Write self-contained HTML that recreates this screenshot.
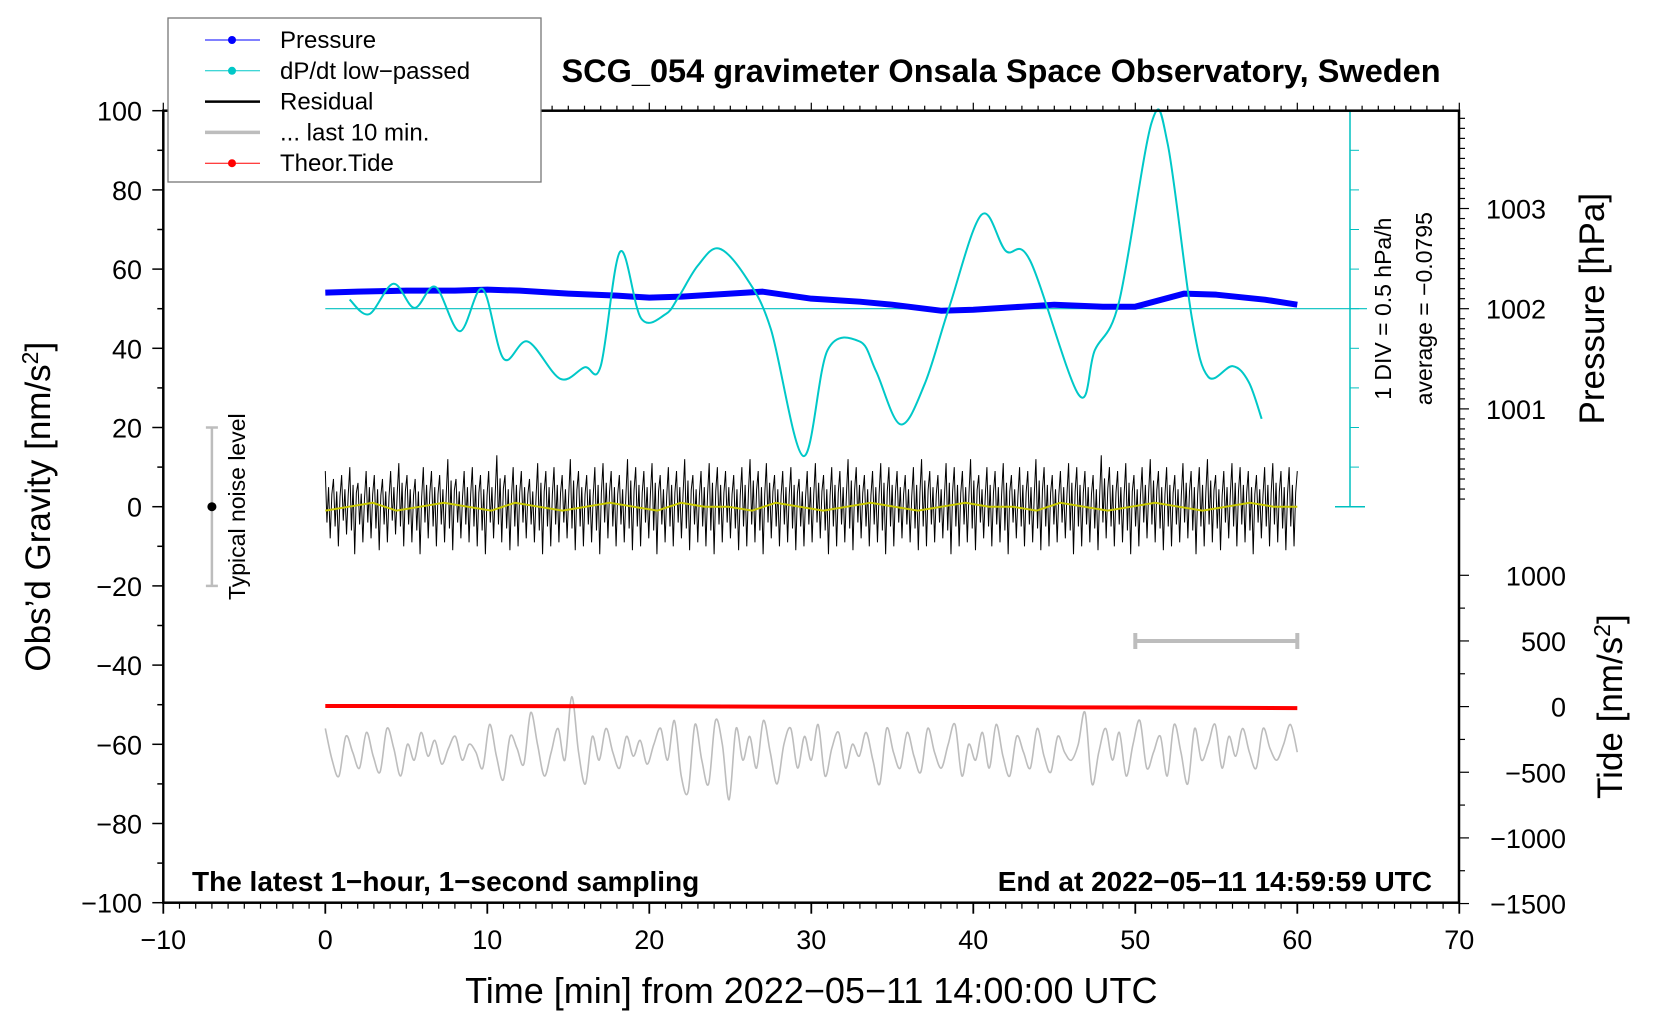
<!DOCTYPE html>
<html><head><meta charset="utf-8"><style>
html,body{margin:0;padding:0;background:#fff}
svg{display:block}
text{font-family:"Liberation Sans",Arial,sans-serif;fill:#000}
</style></head><body>
<svg id="chart" width="1660" height="1020" viewBox="0 0 1660 1020" xmlns="http://www.w3.org/2000/svg">
<g id="marks"></g>
<g id="axes"></g>
</svg>
<script>
const xTicks=[-10,0,10,20,30,40,50,60,70];
const yTicks=[-100,-80,-60,-40,-20,0,20,40,60,80,100];
const pTicks=[1001,1002,1003];
const tideTicks=[-1500,-1000,-500,0,500,1000];
const pressureT=[0,2,5,8,10,12,15,18,20,22,25,27,30,33,35,38,40,43,45,48,50,53,55,58,60];
const pressureV=[1002.16,1002.17,1002.18,1002.18,1002.19,1002.18,1002.15,1002.13,1002.11,1002.12,1002.15,1002.17,1002.10,1002.07,1002.04,1001.98,1001.99,1002.02,1002.04,1002.02,1002.02,1002.15,1002.14,1002.09,1002.04];
const dpT=[1.5,2.7,4.2,5.5,6.8,8.3,9.7,11,12.5,14.5,16,17,18.2,19.5,21,21.8,23,24.3,26,27.5,29.5,31,33,34,35.5,37,38.5,40.5,42,43.5,46.5,47.5,49,51,52,53.5,54.5,56,57,57.8];
const dpV=[52.3,48.6,56.3,50.2,55.5,44.3,55,37.4,41.7,32.3,35.2,35.5,64.4,47.5,48.6,52.9,60.9,65.2,57.7,44.9,12.8,39.5,41.7,34.2,20.8,31,50.2,73.7,64.6,62.2,28.3,39.5,51.8,96.9,91.6,47.5,32.8,35.5,31.5,22.2];
const resMax=[9,7,8,10,6,9,8,7,9,11,8,7,10,9,8,12,7,9,10,8,9,13,8,10,9,7,11,9,10,8,12,9,8,10,11,9,8,12,10,9,11,8,10,9,12,8,9,11,10,9,8,10,12,9,11,8,9,10,7,9,11,8,10,9,12,10,8,9,11,10,9,8,10,12,9,8,11,10,9,12,8,10,9,11,8,10,9,12,10,8,9,11,10,9,8,13,10,9,11,8,10,12,9,10,8,11,9,10,12,8,9,11,10,9,8,10,11,9,10,9];
const resMin=[-8,-10,-7,-12,-9,-8,-11,-9,-7,-10,-9,-12,-8,-10,-9,-11,-8,-9,-10,-12,-8,-9,-11,-10,-8,-9,-12,-10,-9,-8,-11,-10,-9,-12,-8,-10,-9,-11,-10,-8,-12,-9,-10,-8,-11,-9,-10,-12,-9,-8,-11,-10,-9,-12,-8,-10,-9,-11,-10,-9,-8,-12,-10,-9,-11,-8,-10,-9,-12,-10,-8,-9,-11,-10,-9,-8,-12,-10,-9,-11,-8,-10,-9,-12,-8,-10,-9,-11,-10,-9,-8,-12,-10,-9,-11,-8,-10,-9,-12,-10,-8,-9,-11,-10,-9,-8,-12,-10,-9,-11,-8,-10,-9,-12,-8,-10,-9,-11,-10,-9];
const smoothV=[-1,0,1,-1,0,1,0,-1,1,0,-1,0,1,0,-1,1,0,0,-1,1,0,-1,0,1,0,-1,0,1,0,0,-1,1,0,-1,0,1,0,-1,0,1,0,0];
const grayV=[-56,-64,-68,-58,-62,-66,-57,-63,-67,-56,-61,-68,-60,-64,-57,-63,-59,-65,-61,-58,-64,-60,-62,-66,-55,-63,-69,-58,-61,-65,-52,-60,-68,-62,-56,-64,-48,-62,-70,-58,-64,-56,-62,-66,-58,-63,-59,-65,-60,-56,-64,-54,-68,-72,-55,-64,-70,-54,-60,-74,-56,-64,-58,-66,-54,-62,-70,-60,-56,-66,-58,-64,-55,-68,-61,-57,-66,-60,-63,-57,-64,-70,-56,-62,-66,-57,-63,-67,-56,-62,-66,-60,-55,-68,-60,-64,-57,-66,-55,-63,-68,-58,-62,-66,-56,-63,-67,-58,-62,-64,-60,-52,-70,-62,-56,-64,-57,-68,-60,-54,-66,-62,-58,-68,-55,-62,-70,-56,-64,-60,-55,-66,-58,-63,-56,-62,-66,-56,-61,-64,-60,-55,-62];
const tideT=[0,10,20,27,30,40,46,50,55,60];
const tideV=[5,4,3,0,-1,-3,-6,-7,-9,-12];

const NS="http://www.w3.org/2000/svg";
const X=t=>163.3+(t+10)*16.2;
const Y=g=>110.7+(100-g)*3.96;
const YP=p=>Y(50+(p-1002)*25.3);
const YT=v=>706.6-v*0.1313;
const marks=document.getElementById('marks'),axes=document.getElementById('axes');
function el(tag,attrs,parent,txt){const e=document.createElementNS(NS,tag);for(const k in attrs)e.setAttribute(k,attrs[k]);if(txt!==undefined)e.textContent=txt;(parent||marks).appendChild(e);return e;}
function smoothPath(pts){let d='M'+pts[0][0]+','+pts[0][1];for(let i=0;i<pts.length-1;i++){const p0=pts[i-1]||pts[i],p1=pts[i],p2=pts[i+1],p3=pts[i+2]||p2;d+=' C'+(p1[0]+(p2[0]-p0[0])/6)+','+(p1[1]+(p2[1]-p0[1])/6)+' '+(p2[0]-(p3[0]-p1[0])/6)+','+(p2[1]-(p3[1]-p1[1])/6)+' '+p2[0]+','+p2[1];}return d;}

let e=el('line',{x1:X(0),x2:1367,y1:Y(50),y2:Y(50),stroke:'#00c0c0','stroke-width':1.2});

const ca=el('g',{});
el('line',{x1:1350,x2:1350,y1:Y(100),y2:Y(0),stroke:'#00c0c0','stroke-width':1.5},ca);
el('line',{x1:1335,x2:1365,y1:Y(100),y2:Y(100),stroke:'#00c0c0','stroke-width':1.5},ca);
el('line',{x1:1335,x2:1365,y1:Y(0),y2:Y(0),stroke:'#00c0c0','stroke-width':1.5},ca);
for(let g=10;g<100;g+=10)el('line',{x1:1350,x2:1359,y1:Y(g),y2:Y(g),stroke:'#00c0c0','stroke-width':1},ca);

// residual (dense zigzag from envelopes)
let rp=[];const n=resMax.length;const dt=60/(n-1);
resMax.forEach((v,i)=>{const t=i*dt;const mn=resMin[i];
rp.push([X(t),Y(v)]);rp.push([X(t+dt*0.2),Y(mn*0.5)]);rp.push([X(t+dt*0.4),Y(v*0.55)]);rp.push([X(t+dt*0.6),Y(mn)]);rp.push([X(t+dt*0.8),Y(v*0.35)]);});
rp=rp.filter(p=>p[0]<=X(60)+1);
e=el('polyline',{points:rp.map(p=>p.join(',')).join(' '),fill:'none',stroke:'#000','stroke-width':1});

e=el('polyline',{points:smoothV.map((v,i)=>X(i*60/(smoothV.length-1))+','+Y(v)).join(' '),fill:'none',stroke:'#c8c800','stroke-width':2});


e=el('path',{d:smoothPath(grayV.map((v,i)=>[X(i*60/(grayV.length-1)),Y(v)])),fill:'none',stroke:'#bdbdbd','stroke-width':1.6});


e=el('polyline',{points:pressureT.map((t,i)=>X(t)+','+YP(pressureV[i])).join(' '),fill:'none',stroke:'#0000ff','stroke-width':6,'stroke-linejoin':'round'});


e=el('path',{d:smoothPath(dpT.map((t,i)=>[X(t),Y(dpV[i])])),fill:'none',stroke:'#00c8c8','stroke-width':2});


e=el('polyline',{points:tideT.map((t,i)=>X(t)+','+YT(tideV[i])).join(' '),fill:'none',stroke:'#ff0000','stroke-width':4});


const tb=el('g',{stroke:'#bdbdbd','stroke-width':4});
el('line',{x1:X(50),x2:X(60),y1:641,y2:641},tb);el('line',{x1:X(50),x2:X(50),y1:633,y2:649},tb);el('line',{x1:X(60),x2:X(60),y1:633,y2:649},tb);
const nb=el('g',{});
el('line',{x1:X(-7),x2:X(-7),y1:Y(20),y2:Y(-20),stroke:'#bdbdbd','stroke-width':2.5},nb);
el('line',{x1:X(-7)-6,x2:X(-7)+6,y1:Y(20),y2:Y(20),stroke:'#bdbdbd','stroke-width':2.5},nb);
el('line',{x1:X(-7)-6,x2:X(-7)+6,y1:Y(-20),y2:Y(-20),stroke:'#bdbdbd','stroke-width':2.5},nb);
el('circle',{cx:X(-7),cy:Y(0),r:4.5,fill:'#000'},nb);
e=el('text',{x:0,y:0,'font-size':23,'text-anchor':'middle',transform:`translate(245,${Y(0)}) rotate(-90)`},marks,'Typical noise level');


e=el('rect',{x:163.3,y:110.7,width:1459-163.3,height:902.7-110.7,fill:'none',stroke:'#000','stroke-width':2.5},axes);

const xa=el('g',{},axes);
for(let t=-10;t<=70;t++){const maj=t%10===0;el('line',{x1:X(t),x2:X(t),y1:902.7,y2:902.7+(maj?11:6),stroke:'#000','stroke-width':maj?1.8:1.2},xa);el('line',{x1:X(t),x2:X(t),y1:110.7,y2:110.7-(maj?8:5),stroke:'#000','stroke-width':1.2},xa);}
xTicks.forEach(t=>el('text',{x:X(t),y:949,'font-size':27,'text-anchor':'middle'},xa,String(t).replace('-','\u2212')));
e=el('text',{x:X(30),y:1003,'font-size':36,'text-anchor':'middle'},axes,'Time [min] from 2022\u221205\u221211 14:00:00 UTC');

const ya=el('g',{},axes);
for(let g=-100;g<=100;g+=10){const maj=g%20===0;el('line',{x1:163.3,x2:163.3-(maj?11:6),y1:Y(g),y2:Y(g),stroke:'#000','stroke-width':1.5},ya);}
yTicks.forEach(g=>el('text',{x:142,y:Y(g)+10,'font-size':27,'text-anchor':'end'},ya,String(g).replace('-','\u2212')));
e=el('text',{'font-size':35,'text-anchor':'middle',transform:`translate(50,${Y(0)}) rotate(-90)`},axes);

e.innerHTML='Obs\u2019d Gravity [nm/s<tspan dy="-12" font-size="23">2</tspan><tspan dy="12">]</tspan>';
const pa=el('g',{},axes);
for(let p=1000.1;p<=1003.91;p+=0.1){const y=YP(p);if(y<112)continue;el('line',{x1:1459,x2:1459+(Math.abs(p-Math.round(p))<0.01?10:6),y1:y,y2:y,stroke:'#000','stroke-width':1.2},pa);}
pTicks.forEach(p=>el('text',{x:1486,y:YP(p)+10,'font-size':27},pa,String(p)));
e=el('text',{'font-size':35,'text-anchor':'middle',transform:`translate(1604,${YP(1002)}) rotate(-90)`},axes,'Pressure [hPa]');

const ta=el('g',{},axes);
for(let v=-1500;v<=1000;v+=250)el('line',{x1:1459,x2:1459+(v%500===0?10:6),y1:YT(v),y2:YT(v),stroke:'#000','stroke-width':1.2},ta);
tideTicks.forEach(v=>el('text',{x:1566,y:YT(v)+10,'font-size':27,'text-anchor':'end'},ta,String(v).replace('-','\u2212')));
e=el('text',{'font-size':35,'text-anchor':'middle',transform:`translate(1622,${YT(0)}) rotate(-90)`},axes);

e.innerHTML='Tide [nm/s<tspan dy="-12" font-size="23">2</tspan><tspan dy="12">]</tspan>';
e=el('text',{'font-size':23,'text-anchor':'middle',transform:`translate(1391,${Y(50)}) rotate(-90)`},axes,'1 DIV = 0.5 hPa/h');

e=el('text',{'font-size':23,'text-anchor':'middle',transform:`translate(1432,${Y(50)}) rotate(-90)`},axes,'average = \u22120.0795');

e=el('text',{x:1001,y:82,'font-size':32.5,'font-weight':'bold','text-anchor':'middle'},axes,'SCG_054 gravimeter Onsala Space Observatory, Sweden');

e=el('text',{x:192,y:891,'font-size':28,'font-weight':'bold'},axes,'The latest 1\u2212hour, 1\u2212second sampling');

e=el('text',{x:1432,y:891,'font-size':28,'font-weight':'bold','text-anchor':'end'},axes,'End at 2022\u221205\u221211 14:59:59 UTC');


const lg=el('g',{},axes);
el('rect',{x:168,y:18,width:373,height:164,fill:'#fff',stroke:'#777','stroke-width':1.3},lg);
const leg=[['Pressure','#0000ff',1,true],['dP/dt low\u2212passed','#00c8c8',1,true],['Residual','#000',2.5,false],['... last 10 min.','#bdbdbd',3.5,false],['Theor.Tide','#ff0000',1,true]];
leg.forEach((r,i)=>{const y=40+i*30.8;const g=el('g',{},lg);
el('line',{x1:205,x2:260,y1:y,y2:y,stroke:r[1],'stroke-width':r[2]},g);if(r[3])el('circle',{cx:232,cy:y,r:4,fill:r[1]},g);
el('text',{x:280,y:y+8,'font-size':24},g,r[0]);});
</script>
</body></html>
